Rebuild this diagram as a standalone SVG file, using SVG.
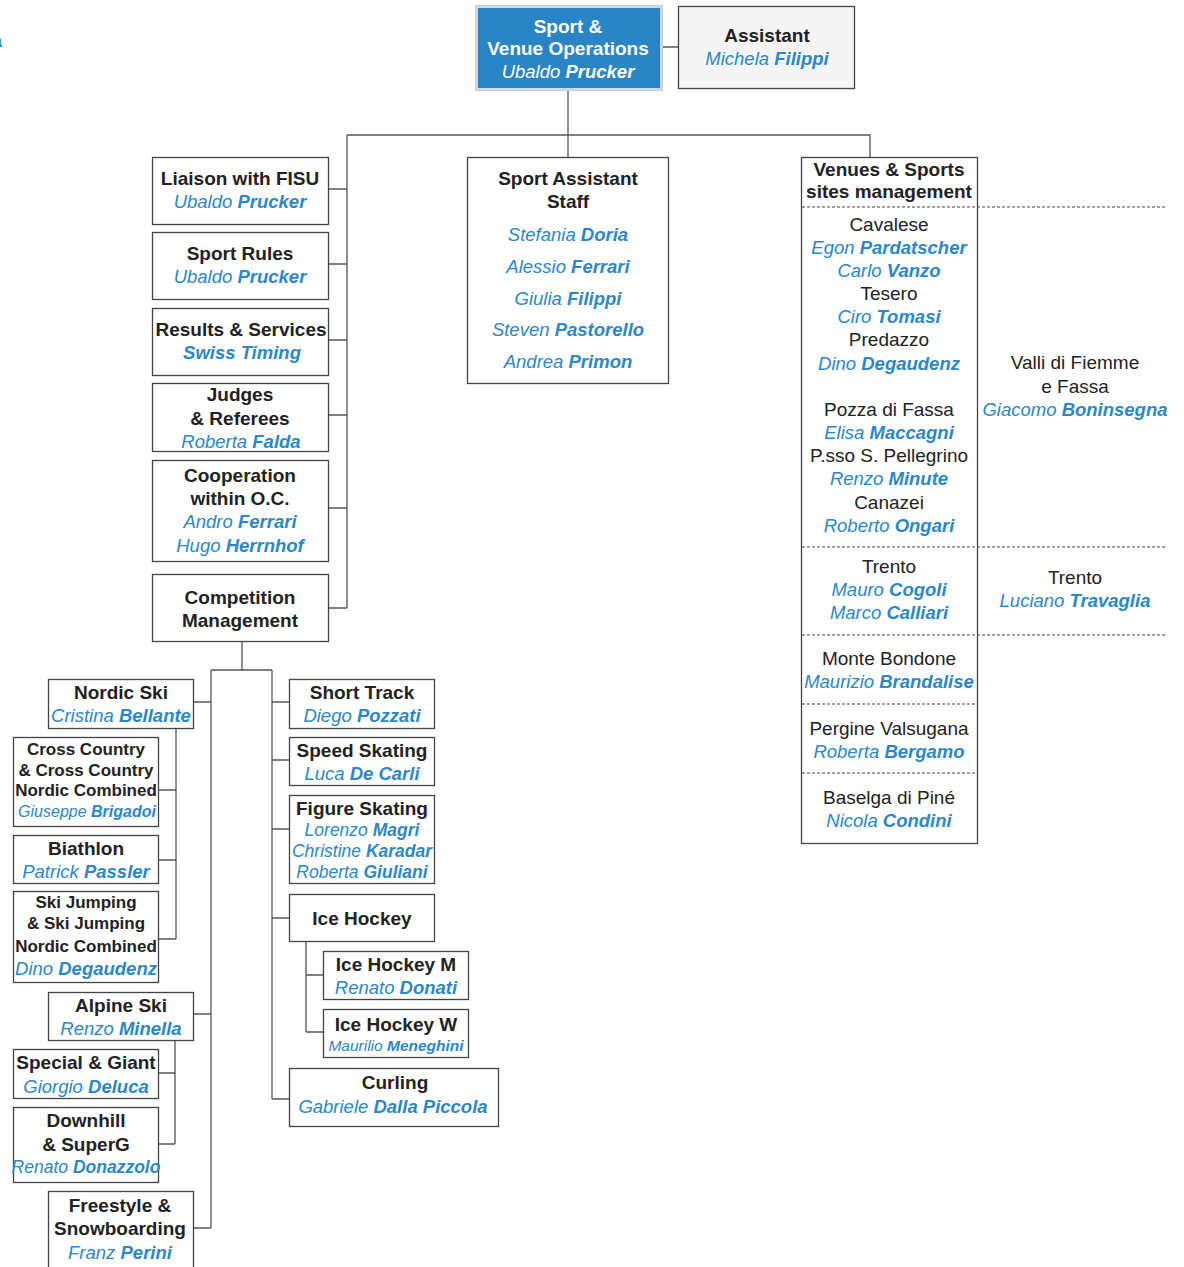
<svg xmlns="http://www.w3.org/2000/svg" width="1184" height="1267" viewBox="0 0 1184 1267">
<style>
text{font-family:"Liberation Sans",Arial,sans-serif;text-anchor:middle}
.h{font-weight:bold;font-size:19px;fill:#222}
.hs{font-weight:bold;font-size:17px;fill:#222}
.p{font-size:19px;fill:#222}
.n{font-style:italic;font-size:18.5px;fill:#2b87c9}
.ns{font-style:italic;font-size:16px;fill:#2b87c9}
.b{font-weight:bold}
.w{fill:#fff}
.box{fill:#fff;stroke:#444;stroke-width:1.3}
.ln{fill:none;stroke:#555;stroke-width:1.3}
.dot{fill:none;stroke:#444;stroke-width:1;stroke-dasharray:3 2}
</style>
<rect width="1184" height="1267" fill="#fff"/>
<text x="-3" y="47" class="n b" style="font-style:normal">a</text>
<g id="connectors">
<path class="ln" d="M663,47H678M568,91V157M347,135H870V157M347,135V608M328,189H347M328,264H347M328,340H347M328,415H347M328,508H347M328,608H347"/>
<path class="ln" d="M242,641V670M211,670H272M211,670V1228M272,670V1099M193,702H211M193,1014H211M193,1228H211"/>
<path class="ln" d="M176,728V939M158,790H176M158,860H176M158,939H176M175,1040V1144M158,1073H175M158,1144H175"/>
<path class="ln" d="M272,702H289M272,760H289M272,829H289M272,918H289M272,1099H289M306,941V1032M306,975H323M306,1032H323"/>
</g>
<g id="sport-venue-operations">
<rect x="475.5" y="5.5" width="187" height="85" fill="#d4d9de" stroke="#c9ced4"/>
<rect x="478" y="8" width="182" height="80" fill="#2a85c7"/>
<text x="568" y="32.5" class="h w">Sport &amp;</text>
<text x="568" y="54.5" class="h w">Venue Operations</text>
<text x="568" y="77.5" class="n w">Ubaldo <tspan class="b">Prucker</tspan></text>
</g>
<g id="assistant">
<rect x="678.5" y="6.5" width="176" height="82" fill="#f5f5f5" stroke="#444" stroke-width="1.3"/>
<text x="767" y="41.5" class="h">Assistant</text>
<text x="767" y="64.5" class="n">Michela <tspan class="b">Filippi</tspan></text>
</g>
<g id="liaison">
<rect class="box" x="152.5" y="157.5" width="176" height="67"/>
<text x="240" y="184.5" class="h">Liaison with FISU</text>
<text x="240" y="207.5" class="n">Ubaldo <tspan class="b">Prucker</tspan></text>
</g>
<g id="sport-rules">
<rect class="box" x="152.5" y="232.5" width="176" height="67"/>
<text x="240" y="259.5" class="h">Sport Rules</text>
<text x="240" y="282.5" class="n">Ubaldo <tspan class="b">Prucker</tspan></text>
</g>
<g id="results">
<rect class="box" x="152.5" y="308.5" width="176" height="67"/>
<text x="241" y="335.5" class="h">Results &amp; Services</text>
<text x="242" y="358.5" class="n b">Swiss Timing</text>
</g>
<g id="judges">
<rect class="box" x="152.5" y="383.5" width="176" height="68"/>
<text x="240" y="400.5" class="h">Judges</text>
<text x="240" y="424.5" class="h">&amp; Referees</text>
<text x="241" y="447.5" class="n">Roberta <tspan class="b">Falda</tspan></text>
</g>
<g id="cooperation">
<rect class="box" x="152.5" y="460.5" width="176" height="101"/>
<text x="240" y="481.5" class="h">Cooperation</text>
<text x="240" y="504.5" class="h">within O.C.</text>
<text x="240" y="527.5" class="n">Andro <tspan class="b">Ferrari</tspan></text>
<text x="240" y="551.5" class="n">Hugo <tspan class="b">Herrnhof</tspan></text>
</g>
<g id="competition">
<rect class="box" x="152.5" y="574.5" width="176" height="67"/>
<text x="240" y="603.5" class="h">Competition</text>
<text x="240" y="626.5" class="h">Management</text>
</g>
<g id="sport-assistant-staff">
<rect class="box" x="467.5" y="157.5" width="201" height="226"/>
<text x="568" y="184.5" class="h">Sport Assistant</text>
<text x="568" y="207.5" class="h">Staff</text>
<text x="568" y="240.5" class="n">Stefania <tspan class="b">Doria</tspan></text>
<text x="568" y="272.5" class="n">Alessio <tspan class="b">Ferrari</tspan></text>
<text x="568" y="304.5" class="n">Giulia <tspan class="b">Filippi</tspan></text>
<text x="568" y="335.5" class="n">Steven <tspan class="b">Pastorello</tspan></text>
<text x="568" y="367.5" class="n">Andrea <tspan class="b">Primon</tspan></text>
</g>
<g id="venues">
<rect class="box" x="801.5" y="157.5" width="176" height="686"/>
<path class="dot" d="M802,207H1166M802,547H1166M802,635H1166M802,704H977M802,773H977"/>
<text x="889" y="175.5" class="h">Venues &amp; Sports</text>
<text x="889" y="197.5" class="h">sites management</text>
<text x="889" y="230.5" class="p">Cavalese</text>
<text x="889" y="253.5" class="n">Egon <tspan class="b">Pardatscher</tspan></text>
<text x="889" y="276.5" class="n">Carlo <tspan class="b">Vanzo</tspan></text>
<text x="889" y="299.5" class="p">Tesero</text>
<text x="889" y="322.5" class="n">Ciro <tspan class="b">Tomasi</tspan></text>
<text x="889" y="345.5" class="p">Predazzo</text>
<text x="889" y="369.5" class="n">Dino <tspan class="b">Degaudenz</tspan></text>
<text x="889" y="415.5" class="p">Pozza di Fassa</text>
<text x="889" y="438.5" class="n">Elisa <tspan class="b">Maccagni</tspan></text>
<text x="889" y="461.5" class="p">P.sso S. Pellegrino</text>
<text x="889" y="484.5" class="n">Renzo <tspan class="b">Minute</tspan></text>
<text x="889" y="508.5" class="p">Canazei</text>
<text x="889" y="531.5" class="n">Roberto <tspan class="b">Ongari</tspan></text>
<text x="889" y="572.5" class="p">Trento</text>
<text x="889" y="595.5" class="n">Mauro <tspan class="b">Cogoli</tspan></text>
<text x="889" y="618.5" class="n">Marco <tspan class="b">Calliari</tspan></text>
<text x="889" y="664.5" class="p">Monte Bondone</text>
<text x="889" y="687.5" class="n">Maurizio <tspan class="b">Brandalise</tspan></text>
<text x="889" y="734.5" class="p">Pergine Valsugana</text>
<text x="889" y="757.5" class="n">Roberta <tspan class="b">Bergamo</tspan></text>
<text x="889" y="803.5" class="p">Baselga di Piné</text>
<text x="889" y="826.5" class="n">Nicola <tspan class="b">Condini</tspan></text>
</g>
<g id="valli">
<text x="1075" y="368.5" class="p">Valli di Fiemme</text>
<text x="1075" y="392.5" class="p">e Fassa</text>
<text x="1075" y="415.5" class="n">Giacomo <tspan class="b">Boninsegna</tspan></text>
</g>
<g id="trento-right">
<text x="1075" y="583.5" class="p">Trento</text>
<text x="1075" y="606.5" class="n">Luciano <tspan class="b">Travaglia</tspan></text>
</g>
<g id="nordic-ski">
<rect class="box" x="48.5" y="679.5" width="145" height="49"/>
<text x="121" y="698.5" class="h">Nordic Ski</text>
<text x="121" y="721.5" class="n">Cristina <tspan class="b">Bellante</tspan></text>
</g>
<g id="cross-country">
<rect class="box" x="13.5" y="737.5" width="145" height="89"/>
<text x="86" y="755" class="hs">Cross Country</text>
<text x="86" y="776" class="hs">&amp; Cross Country</text>
<text x="86" y="796" class="hs">Nordic Combined</text>
<text x="87" y="817" class="ns">Giuseppe <tspan class="b">Brigadoi</tspan></text>
</g>
<g id="biathlon">
<rect class="box" x="13.5" y="835.5" width="145" height="48"/>
<text x="86" y="854.5" class="h">Biathlon</text>
<text x="86" y="877.5" class="n">Patrick <tspan class="b">Passler</tspan></text>
</g>
<g id="ski-jumping">
<rect class="box" x="13.5" y="891.5" width="145" height="91"/>
<text x="86" y="908" class="hs">Ski Jumping</text>
<text x="86" y="929" class="hs">&amp; Ski Jumping</text>
<text x="86" y="952" class="hs">Nordic Combined</text>
<text x="86" y="974.5" class="n">Dino <tspan class="b">Degaudenz</tspan></text>
</g>
<g id="alpine-ski">
<rect class="box" x="48.5" y="992.5" width="145" height="48"/>
<text x="121" y="1011.5" class="h">Alpine Ski</text>
<text x="121" y="1034.5" class="n">Renzo <tspan class="b">Minella</tspan></text>
</g>
<g id="special-giant">
<rect class="box" x="13.5" y="1049.5" width="145" height="49"/>
<text x="86" y="1068.5" class="h">Special &amp; Giant</text>
<text x="86" y="1092.5" class="n">Giorgio <tspan class="b">Deluca</tspan></text>
</g>
<g id="downhill">
<rect class="box" x="13.5" y="1107.5" width="145" height="75"/>
<text x="86" y="1126.5" class="h">Downhill</text>
<text x="86" y="1150.5" class="h">&amp; SuperG</text>
<text x="86" y="1172.5" class="n" style="font-size:17.5px">Renato <tspan class="b">Donazzolo</tspan></text>
</g>
<g id="freestyle">
<rect class="box" x="48.5" y="1191.5" width="145" height="80"/>
<text x="120" y="1211.5" class="h">Freestyle &amp;</text>
<text x="120" y="1234.5" class="h">Snowboarding</text>
<text x="120" y="1258.5" class="n">Franz <tspan class="b">Perini</tspan></text>
</g>
<g id="short-track">
<rect class="box" x="289.5" y="679.5" width="145" height="49"/>
<text x="362" y="698.5" class="h">Short Track</text>
<text x="362" y="721.5" class="n">Diego <tspan class="b">Pozzati</tspan></text>
</g>
<g id="speed-skating">
<rect class="box" x="289.5" y="737.5" width="145" height="48"/>
<text x="362" y="756.5" class="h">Speed Skating</text>
<text x="362" y="779.5" class="n">Luca <tspan class="b">De Carli</tspan></text>
</g>
<g id="figure-skating">
<rect class="box" x="289.5" y="795.5" width="145" height="88"/>
<text x="362" y="814.5" class="h">Figure Skating</text>
<text x="362" y="836" class="n" style="font-size:17.5px">Lorenzo <tspan class="b">Magri</tspan></text>
<text x="362" y="857" class="n" style="font-size:17.5px">Christine <tspan class="b">Karadar</tspan></text>
<text x="362" y="878" class="n" style="font-size:17.5px">Roberta <tspan class="b">Giuliani</tspan></text>
</g>
<g id="ice-hockey">
<rect class="box" x="289.5" y="894.5" width="145" height="47"/>
<text x="362" y="924.5" class="h">Ice Hockey</text>
</g>
<g id="ice-hockey-m">
<rect class="box" x="323.5" y="951.5" width="145" height="48"/>
<text x="396" y="970.5" class="h">Ice Hockey M</text>
<text x="396" y="993.5" class="n">Renato <tspan class="b">Donati</tspan></text>
</g>
<g id="ice-hockey-w">
<rect class="box" x="323.5" y="1009.5" width="145" height="48"/>
<text x="396" y="1030.5" class="h">Ice Hockey W</text>
<text x="396" y="1050.5" class="n" style="font-size:15.5px">Maurilio <tspan class="b">Meneghini</tspan></text>
</g>
<g id="curling">
<rect class="box" x="289.5" y="1068.5" width="209" height="58"/>
<text x="395" y="1088.5" class="h">Curling</text>
<text x="393" y="1112.5" class="n">Gabriele <tspan class="b">Dalla Piccola</tspan></text>
</g>
</svg>
